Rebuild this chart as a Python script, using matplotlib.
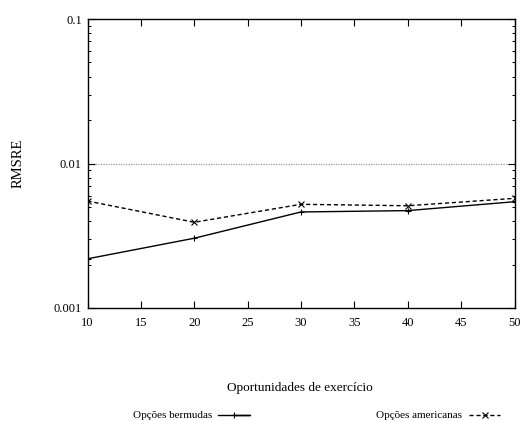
import matplotlib
matplotlib.use("Agg")
import matplotlib.pyplot as plt
from matplotlib.lines import Line2D
from matplotlib.ticker import LogLocator, FixedFormatter, FixedLocator

plt.rcParams["font.family"] = ["Liberation Serif", "DejaVu Serif"]

exercise_opportunities = [10, 20, 30, 40, 50]
rmsre_bermudan = [0.00219, 0.00304, 0.00462, 0.00472, 0.00544]
rmsre_american = [0.00550, 0.00392, 0.00522, 0.00510, 0.00574]
x_ticks = [10, 15, 20, 25, 30, 35, 40, 45, 50]
y_ticks = [0.001, 0.01, 0.1]
y_tick_labels = ["0.001", "0.01", "0.1"]

fig = plt.figure(figsize=(5.25, 4.21), dpi=100)
W, H = 525, 421
left, right, top, bottom = 87.5, 514.5, 19, 308
ax = fig.add_axes([left / W, 1 - bottom / H, (right - left) / W, (bottom - top) / H])

ax.plot(exercise_opportunities, rmsre_bermudan, color="black", lw=1.0,
        marker="+", ms=5, mew=0.8)
ax.plot(exercise_opportunities, rmsre_american, color="black", lw=1.0,
        ls=(0, (3, 2)), marker="x", ms=4, mew=0.8)

ax.set_yscale("log")
ax.set_xlim(10, 50)
ax.set_ylim(0.001, 0.1)
ax.set_xticks(x_ticks)
ax.yaxis.set_major_locator(FixedLocator(y_ticks))
ax.yaxis.set_major_formatter(FixedFormatter(y_tick_labels))
ax.yaxis.set_minor_locator(LogLocator(base=10, subs=range(2, 10)))
ax.yaxis.set_minor_formatter(FixedFormatter([]))

ax.axhline(0.01, color="#999999", lw=0.9, ls=(0, (1, 1)), zorder=0)

for s in ax.spines.values():
    s.set_linewidth(1.0)
ax.tick_params(which="major", direction="in", length=5, width=0.8,
               top=True, right=True, labelsize=9, pad=4)
ax.tick_params(axis="x", which="major", pad=6.5)
ax.tick_params(which="minor", direction="in", length=2.5, width=0.7,
               top=True, right=True)

fig.text(18 / W, 1 - 163 / H, "RMSRE", rotation=90, ha="center", va="center",
         fontsize=10.5)
fig.text(300 / W, 1 - 388 / H, "Oportunidades de exercício", ha="center",
         va="center", fontsize=9.5)

# legend entries along the bottom
fig.text(212 / W, 1 - 415 / H, "Opções bermudas", ha="right", va="center",
         fontsize=8)
fig.add_artist(Line2D([218 / W, 250 / W, 234 / W], [1 - 415 / H] * 3,
                      color="black", lw=1.0, transform=fig.transFigure,
                      markevery=[2], marker="+", ms=5, mew=0.8))
fig.text(462 / W, 1 - 415 / H, "Opções americanas", ha="right", va="center",
         fontsize=8)
fig.add_artist(Line2D([469 / W, 500 / W], [1 - 415 / H] * 2,
                      color="black", lw=1.0, ls=(0, (3, 2)),
                      transform=fig.transFigure))
fig.add_artist(Line2D([484.5 / W], [1 - 415 / H], color="black", lw=0,
                      marker="x", ms=4, mew=0.8, transform=fig.transFigure))

fig.savefig("out.png", dpi=100)
